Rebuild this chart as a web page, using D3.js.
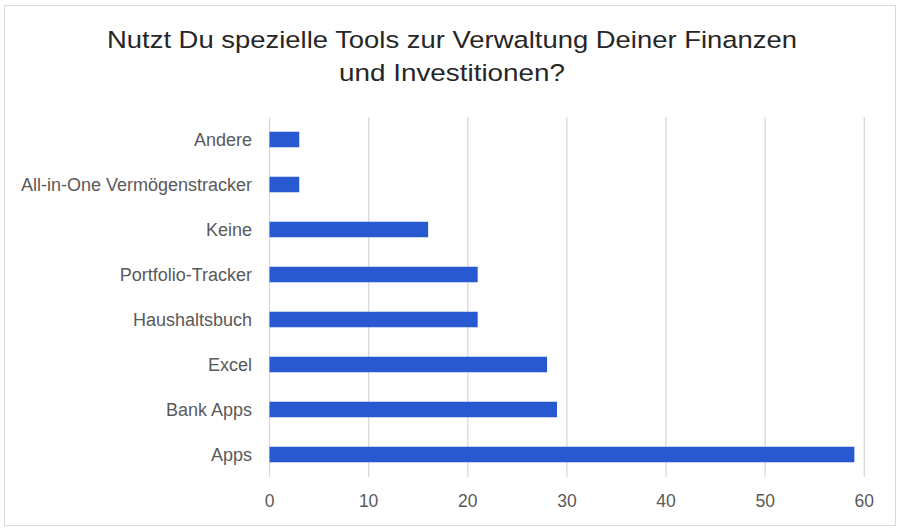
<!DOCTYPE html>
<html lang="de">
<head>
<meta charset="utf-8">
<title>Nutzt Du spezielle Tools</title>
<script src="https://d3js.org/d3.v7.min.js"></script>
<style>
  body { margin: 0; background: #fff; }
  text { font-family: "Liberation Sans", Arial, sans-serif; }
</style>
</head>
<body>
<script>
// data
var categories = ["Andere", "All-in-One Vermögenstracker", "Keine", "Portfolio-Tracker",
                  "Haushaltsbuch", "Excel", "Bank Apps", "Apps"];
var values = [3, 3, 16, 21, 21, 28, 29, 59];
var xTicks = [0, 10, 20, 30, 40, 50, 60];
var titleLines = ["Nutzt Du spezielle Tools zur Verwaltung Deiner Finanzen", "und Investitionen?"];
var titleWidths = [690, 226];

var W = 904, H = 530;

var svg = d3.select("body").append("svg")
  .attr("width", W)
  .attr("height", H);

// chart frame
svg.append("rect")
  .attr("x", 4.5).attr("y", 5.5)
  .attr("width", 891).attr("height", 520)
  .attr("fill", "#fff")
  .attr("stroke", "#d9d9d9");

var x = d3.scaleLinear().domain([0, 60]).range([269.5, 864.3]);
var y = d3.scaleBand().domain(categories).range([117, 477]).paddingInner(0.655).paddingOuter(0.3275);

// gridlines
svg.append("g").selectAll("line")
  .data(xTicks)
  .enter().append("line")
  .attr("x1", function(d) { return x(d); })
  .attr("x2", function(d) { return x(d); })
  .attr("y1", 117).attr("y2", 477)
  .attr("stroke", "#d9d9d9")
  .attr("stroke-width", 1.3);

// bars
svg.append("g").selectAll("rect")
  .data(categories)
  .enter().append("rect")
  .attr("x", x(0))
  .attr("y", function(d) { return y(d); })
  .attr("width", function(d, i) { return x(values[i]) - x(0); })
  .attr("height", y.bandwidth())
  .attr("fill", "#2859d1");

// category labels
svg.append("g").selectAll("text")
  .data(categories)
  .enter().append("text")
  .attr("x", 252)
  .attr("y", function(d) { return y(d) + y.bandwidth() / 2; })
  .attr("dy", "0.35em")
  .attr("text-anchor", "end")
  .attr("font-size", 18)
  .attr("fill", "#595959")
  .text(function(d) { return d; });

// x tick labels
svg.append("g").selectAll("text")
  .data(xTicks)
  .enter().append("text")
  .attr("x", function(d) { return x(d); })
  .attr("y", 501)
  .attr("dy", "0.35em")
  .attr("text-anchor", "middle")
  .attr("font-size", 17.5)
  .attr("fill", "#595959")
  .text(function(d) { return d; });

// title
svg.append("g").selectAll("text")
  .data(titleLines)
  .enter().append("text")
  .attr("x", 452)
  .attr("y", function(d, i) { return 48 + i * 33; })
  .attr("text-anchor", "middle")
  .attr("font-size", 24.5)
  .attr("textLength", function(d, i) { return titleWidths[i]; })
  .attr("lengthAdjust", "spacingAndGlyphs")
  .attr("fill", "#262626")
  .text(function(d) { return d; });
</script>
</body>
</html>
